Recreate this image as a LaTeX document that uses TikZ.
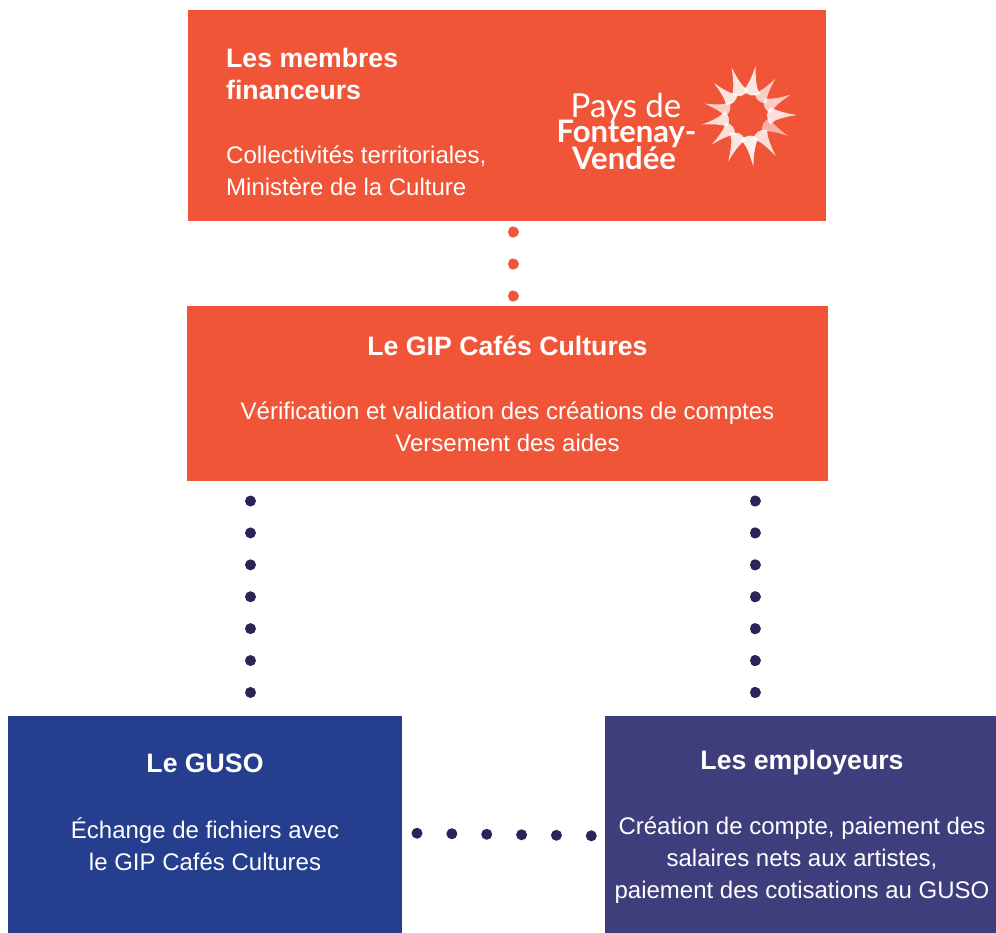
\documentclass[tikz,border=0pt]{standalone}
\usepackage{fontspec}
\setmainfont{Liberation Sans}
\newfontfamily\logofont{Lato}
\usetikzlibrary{calc}
\definecolor{orangebox}{HTML}{F15538}
\definecolor{blueguso}{HTML}{253E8D}
\definecolor{violetemp}{HTML}{3E3E7C}
\definecolor{navydot}{HTML}{2A2459}
\tikzset{
  x=1pt,y=-1pt,
  box/.style={draw=none,inner sep=0pt,outer sep=0pt,minimum width=#1},
  titletext/.style={text=white,font=\fontsize{26.67}{32}\selectfont\bfseries,inner sep=0pt},
  bodytext/.style={text=white,font=\fontsize{24}{32}\selectfont,inner sep=0pt},
  dotline/.style={line width=11pt,line cap=round},
  shardw/.style={fill=white,draw=none,fill opacity=#1},
}
\newcommand{\shard}[4][.75]{%
  \fill[shardw=#1] (#2) .. controls ($(#2)!.55!(#3)+(0,0)$) and ($(#3)!.5!(#4)$) .. (#3)
     .. controls ($(#3)!.5!(#4)$) and ($(#2)!.55!(#4)$) .. (#4)
     .. controls ($(#4)!.5!(#2)$) and ($(#4)!.5!(#2)$) .. (#2) -- cycle;}
\begin{document}
\begin{tikzpicture}
\useasboundingbox (0,0) rectangle (996,933);
\fill[white] (0,0) rectangle (996,933);
\node[box=638pt,fill=orangebox,minimum height=211pt] (top) at (507,115.5) {};
\node[box=641pt,fill=orangebox,minimum height=175pt] (gip) at (507.5,393.5) {};
\node[box=394pt,fill=blueguso,minimum height=217pt] (guso) at (205,824.5) {};
\node[box=391pt,fill=violetemp,minimum height=217pt] (emp) at (800.5,824.5) {};
\node[titletext,align=left,anchor=west] (toptitle) at (226,74) {Les membres\\financeurs};
\node[bodytext,align=left,anchor=west] (topbody) at (226,171) {Collectivités territoriales,\\Ministère de la Culture};
\node[titletext] (giptitle) at (507.5,346) {Le GIP Cafés Cultures};
\node[bodytext,align=center] (gipbody) at (507.5,427) {Vérification et validation des créations de comptes\\Versement des aides};
\node[titletext] (gusotitle) at (205,763) {Le GUSO};
\node[bodytext,align=center] (gusobody) at (205,844) {Échange de fichiers avec\\le GIP Cafés Cultures};
\node[titletext] (emptitle) at (802,763) {Les employeurs};
\node[bodytext,align=center] (empbody) at (802,860) {Création de compte, paiement des\\salaires nets aux artistes,\\paiement des cotisations au GUSO};
% dotted connectors
\draw[dotline,orangebox,dash pattern=on 0.01pt off 32pt,dash phase=-11pt] ([xshift=6pt]top.south) -- ([xshift=5.5pt]gip.north);
\draw[dotline,navydot,dash pattern=on 0.01pt off 31.9pt,dash phase=-20pt] ([xshift=-257pt]gip.south) -- ([xshift=45.5pt]guso.north);
\draw[dotline,navydot,dash pattern=on 0.01pt off 31.9pt,dash phase=-20pt] ([xshift=247.5pt]gip.south) -- ([xshift=-45.5pt]emp.north);
\draw[dotline,navydot,dash pattern=on 0.01pt off 34.85pt,dash phase=-15pt] ([yshift=-8.5pt]guso.east) -- ([yshift=-11.5pt]emp.west);
% logo
\node[text=white,font=\logofont\fontsize{33}{33}\selectfont,inner sep=0pt] (logoa) at (626,108) {Pays de};
\node[text=white,font=\logofont\fontsize{31}{31}\selectfont\bfseries,inner sep=0pt] (logob) at (626.5,134) {Fontenay-};
\node[text=white,font=\logofont\fontsize{31}{31}\selectfont\bfseries,inner sep=0pt] (logoc) at (624,158) {Vendée};
\foreach \a/\r/\w/\o in {0/50/.34/.8,27/46/.3/.55,55/50/.34/.8,83/52/.3/.9,112/50/.34/.85,140/46/.3/.8,168/46/.3/.8,195/44/.3/.7,224/46/.34/.85,252/50/.3/.85,280/50/.34/.85,308/46/.34/.7,335/48/.3/.7}{
  \fill[white,fill opacity=\o] ($(747,115)+(\a:\r)$)
    .. controls ($(747,115)+(\a+4:.7*\r)$) and ($(747,115)+(\a+10:.55*\r)$) .. ($(747,115)+(\a+22:.5*\r)$)
    .. controls ($(747,115)+(\a+8:.38*\r)$) and ($(747,115)+(\a-8:.38*\r)$) .. ($(747,115)+(\a-18:.5*\r)$)
    .. controls ($(747,115)+(\a-8:.6*\r)$) and ($(747,115)+(\a-3:.75*\r)$) .. cycle;
}
\end{tikzpicture}
\end{document}
